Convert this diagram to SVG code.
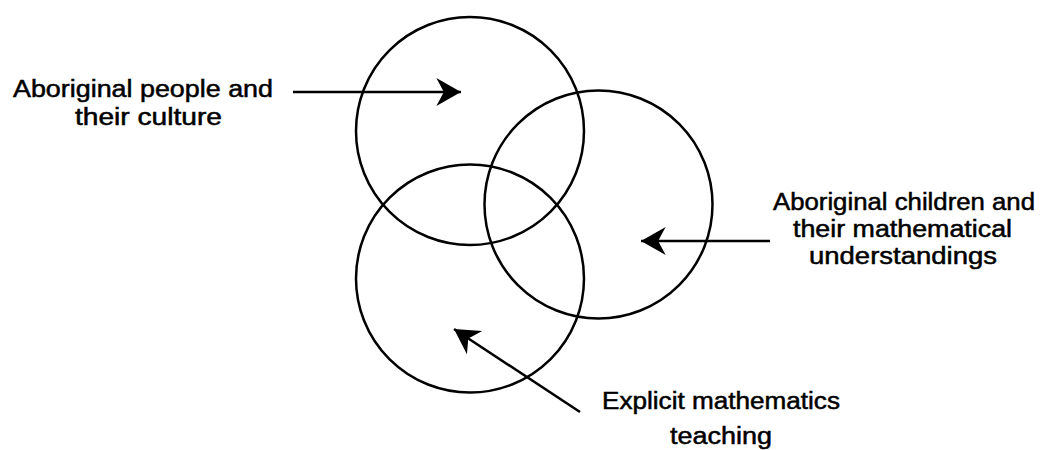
<svg xmlns="http://www.w3.org/2000/svg" width="1040" height="450" viewBox="0 0 1040 450">
<style>
.c{fill:none;stroke:#000;stroke-width:2.5}
.a{fill:none;stroke:#000;stroke-width:2.5}
.t{font-family:"Liberation Sans",Arial,sans-serif;font-size:23.5px;fill:#000;stroke:#000;stroke-width:0.5;text-anchor:start}
</style>
<defs>
<marker id="ah" markerUnits="userSpaceOnUse" markerWidth="30" markerHeight="30" viewBox="-24 -14 26 28" refX="0" refY="0" orient="auto">
<path d="M0,0 L-23,-13 L-16,0 L-23,13 Z" fill="#000"/>
</marker>
</defs>
<rect width="1040" height="450" fill="#fff"/>
<g id="circle-culture"><circle class="c" cx="470" cy="131" r="114"/></g>
<g id="circle-children"><circle class="c" cx="598.5" cy="204.5" r="114"/></g>
<g id="circle-teaching"><circle class="c" cx="470" cy="278.5" r="114"/></g>
<g id="label-culture">
<text class="t" x="13" y="97" textLength="260" lengthAdjust="spacingAndGlyphs">Aboriginal people and</text>
<text class="t" x="75" y="125" textLength="147" lengthAdjust="spacingAndGlyphs">their culture</text>
</g>
<g id="label-children">
<text class="t" x="773" y="210" textLength="262" lengthAdjust="spacingAndGlyphs">Aboriginal children and</text>
<text class="t" x="793" y="237" textLength="219" lengthAdjust="spacingAndGlyphs">their mathematical</text>
<text class="t" x="809" y="264" textLength="188" lengthAdjust="spacingAndGlyphs">understandings</text>
</g>
<g id="label-teaching">
<text class="t" x="602" y="409" textLength="238" lengthAdjust="spacingAndGlyphs">Explicit mathematics</text>
<text class="t" x="670" y="444" textLength="102" lengthAdjust="spacingAndGlyphs">teaching</text>
</g>
<g id="connectors">
<line class="a" x1="293" y1="92" x2="461" y2="92" marker-end="url(#ah)"/>
<line class="a" x1="770" y1="241" x2="641" y2="241" marker-end="url(#ah)"/>
<line class="a" x1="580" y1="412" x2="454" y2="329" marker-end="url(#ah)"/>
</g>
</svg>
